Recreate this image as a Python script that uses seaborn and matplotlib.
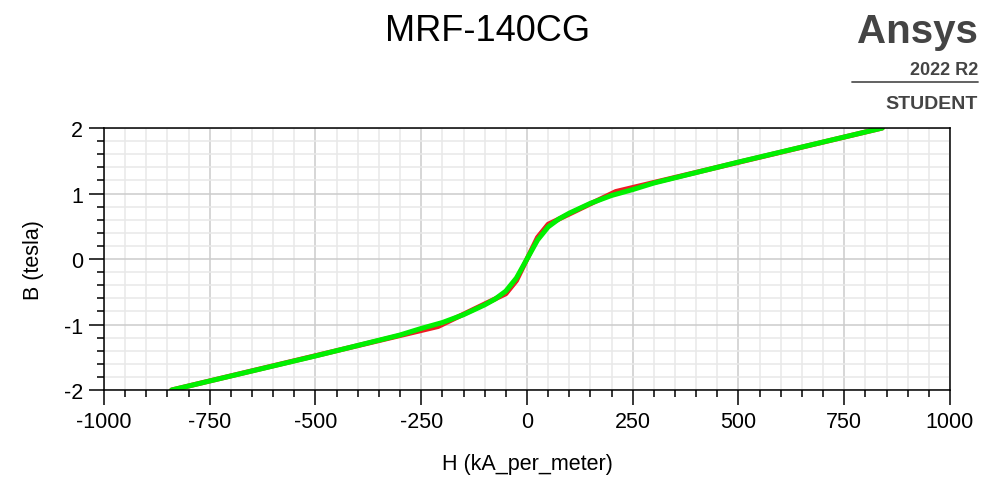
import matplotlib
matplotlib.use("Agg")
import matplotlib.pyplot as plt
from matplotlib.ticker import MultipleLocator
import seaborn as sns
import pandas as pd

# measured B-H curve (red) and fitted smooth curve (green)
h_red = [-840, -210, -50, -25, 0, 25, 50, 210, 840]
b_red = [-2.0, -1.03, -0.53, -0.33, 0.0, 0.33, 0.53, 1.03, 2.0]

h_green = [-840, -500, -300, -250, -200, -150, -100, -75, -50, -25, 0,
           25, 50, 75, 100, 150, 200, 250, 300, 500, 840]
b_green = [-2.0, -1.48, -1.16, -1.06, -0.97, -0.85, -0.70, -0.61, -0.49, -0.29, 0.0,
           0.29, 0.49, 0.61, 0.70, 0.85, 0.97, 1.06, 1.16, 1.48, 2.0]

title = "MRF-140CG"
x_label = "H (kA_per_meter)"
y_label = "B (tesla)"

sns.set_style("white")
plt.rcParams['font.family'] = ['Liberation Sans', 'DejaVu Sans']
plt.rcParams['axes.unicode_minus'] = False
plt.rcParams['text.color'] = 'black'
plt.rcParams['axes.labelcolor'] = 'black'

df_red = pd.DataFrame({"H": h_red, "B": b_red})
df_green = pd.DataFrame({"H": h_green, "B": b_green})

fig = plt.figure(figsize=(9.83, 4.81), dpi=100)
ax = fig.add_axes([0.1058, 0.1871, 0.8606, 0.5447])

sns.lineplot(data=df_red, x="H", y="B", ax=ax, color="#ee1c24", linewidth=3.6,
             sort=False, estimator=None)
sns.lineplot(data=df_green, x="H", y="B", ax=ax, color="#00f000", linewidth=3.6,
             sort=False, estimator=None)

ax.set_xlim(-1000, 1000)
ax.set_ylim(-2, 2)
ax.xaxis.set_major_locator(MultipleLocator(250))
ax.xaxis.set_minor_locator(MultipleLocator(50))
ax.yaxis.set_major_locator(MultipleLocator(1))
ax.yaxis.set_minor_locator(MultipleLocator(0.2))

ax.grid(which="major", color="#cccccc", linewidth=1.1)
ax.grid(which="minor", color="#e8e8e8", linewidth=1.1)
ax.set_axisbelow(True)

ax.tick_params(which="major", direction="out", length=11, width=1.1,
               labelsize=15.5, pad=4, bottom=True, left=True,
               colors="black", labelcolor="black")
ax.tick_params(which="minor", direction="out", length=5, width=1.1,
               bottom=True, left=True, colors="black")

for s in ax.spines.values():
    s.set_color("black")
    s.set_linewidth(1.1)

ax.set_xlabel(x_label, fontsize=15.5, labelpad=15)
ax.set_ylabel(y_label, fontsize=15.5, labelpad=14)

fig.text(0.4955, 0.915, title, ha="center", va="baseline", fontsize=26)

# Ansys student watermark
fig.text(0.995, 0.9106, "Ansys", ha="right", va="baseline", fontsize=29,
         fontweight="bold", color="#444444")
fig.text(0.995, 0.845, "2022 R2", ha="right", va="baseline", fontsize=13,
         fontweight="bold", color="#444444")
fig.add_artist(plt.Line2D([0.867, 0.995], [0.8274, 0.8274], color="#555555",
                          linewidth=1.3, transform=fig.transFigure))
fig.text(0.995, 0.7734, "STUDENT", ha="right", va="baseline", fontsize=14,
         fontweight="bold", color="#444444")

fig.savefig("out.png", dpi=100)
